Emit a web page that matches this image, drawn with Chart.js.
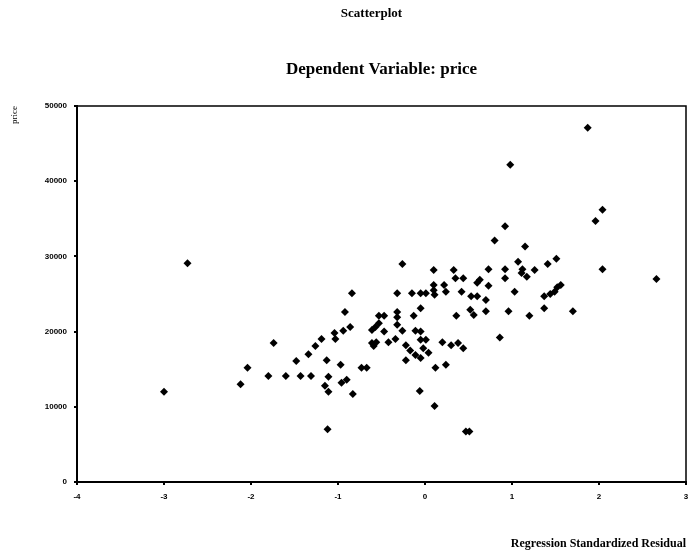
<!DOCTYPE html>
<html>
<head>
<meta charset="utf-8">
<title>Scatterplot</title>
<script src="https://cdn.jsdelivr.net/npm/chart.js@4/dist/chart.umd.min.js"></script>
<style>
  html, body { margin: 0; padding: 0; background: #fff; }
  #wrap { width: 690px; height: 551px; position: relative; }
</style>
</head>
<body>
<div id="wrap"><canvas id="chart"></canvas></div>
<script>
// Regression standardized residual (x) and observed price (y), one entry per case
const residuals = [
  -3.00, -2.73, -2.12, -2.04, -1.80, -1.60, -1.74, -1.48, -1.43, -1.31,
  -1.34, -1.26, -1.19, -1.13, -1.11, -1.15, -1.11, -1.12, -1.04, -1.03,
  -0.97, -0.96, -0.90, -0.83, -0.94, -0.86, -0.92, -0.84, -0.73, -0.67,
  -0.61, -0.53, -0.57, -0.47, -0.61, -0.56, -0.59, -0.53, -0.47, -0.42,
  -0.34, -0.32, -0.32, -0.32, -0.26, -0.32, -0.26, -0.22, -0.17, -0.11,
  -0.05, -0.22, -0.02, -0.15, -0.05, -0.13, -0.11, -0.05, -0.06, -0.05,
   0.01,  0.04,  0.01, -0.05,  0.10,  0.11,  0.10,  0.10,  0.12,  0.24,
   0.11,  0.20,  0.22,  0.24,  0.33,  0.35,  0.44,  0.42,  0.30,  0.38,
   0.44,  0.47,  0.51,  0.36,  0.52,  0.56,  0.53,  0.60,  0.63,  0.60,
   0.73,  0.73,  0.70,  0.70,  0.80,  0.86,  0.92,  0.98,  0.92,  0.92,
   0.96,  1.03,  1.07,  1.12,  1.11,  1.17,  1.15,  1.20,  1.26,  1.37,
   1.37,  1.44,  1.49,  1.52,  1.41,  1.51,  1.56,  1.70,  1.87,  1.96,
   2.04,  2.04,  2.66
];
const prices = [
  12000, 29100, 13000, 15200, 14100, 14100, 18500, 16100, 14100, 14100,
  17000, 18100, 19000, 16200, 14000, 12800, 12000,  7000, 19800, 19000,
  15600, 13200, 13600, 11700, 20100, 20600, 22600, 25100, 15200, 15200,
  20200, 21100, 20600, 20000, 18500, 18600, 18100, 22100, 22100, 18600,
  19000, 22600, 21900, 20900, 20100, 25100, 29000, 18200, 17500, 16900,
  16500, 16200, 17800, 25100, 23100, 22100, 20100, 20000, 12100, 25100,
  25100, 17200, 18900, 18900, 25500, 24900, 26200, 28200, 15200, 15600,
  10100, 18600, 26200, 25300, 28200, 27100, 27100, 25300, 18200, 18500,
  17800,  6700,  6700, 22100, 22900, 22200, 24700, 24700, 26900, 26500,
  28300, 26100, 24200, 22700, 32100, 19200, 34000, 42200, 28300, 27100,
  22700, 25300, 29300, 28300, 27800, 27300, 31300, 22100, 28200, 23100,
  24700, 25000, 25300, 25900, 29000, 29700, 26200, 22700, 47100, 34700,
  36200, 28300, 27000
];

// Axis ticks
const xTicks = [-4, -3, -2, -1, 0, 1, 2, 3];
const yTicks = [0, 10000, 20000, 30000, 40000, 50000];
const yTickLabels = ['0', '10000', '20000', '30000', '40000', '50000'];

// Headings
const mainTitle = 'Scatterplot';
const subTitle = 'Dependent Variable: price';
const xTitle = 'Regression Standardized Residual';
const yTitle = 'price';

const points = residuals.map((r, i) => ({ x: r, y: prices[i] }));

const serif = '"Liberation Serif", "DejaVu Serif", serif';
const sans = '"Liberation Sans", "DejaVu Sans", sans-serif';

// Headings above the plot and the closing top/right frame lines
const framePlugin = {
  id: 'frameAndHeadings',
  afterDraw(chart) {
    const { ctx, chartArea: a } = chart;
    ctx.save();
    ctx.strokeStyle = '#000';
    ctx.lineWidth = 1.5;
    ctx.beginPath();
    ctx.moveTo(a.left, a.top);
    ctx.lineTo(a.right, a.top);
    ctx.lineTo(a.right, a.bottom);
    ctx.stroke();

    const cx = (a.left + a.right) / 2;
    ctx.fillStyle = '#000';
    ctx.textAlign = 'center';
    ctx.textBaseline = 'middle';
    ctx.font = 'bold 13px ' + serif;
    ctx.fillText(mainTitle, cx - 10, 14);
    ctx.font = 'bold 17px ' + serif;
    ctx.fillText(subTitle, cx, 70);
    ctx.restore();
  }
};

new Chart(document.getElementById('chart'), {
  type: 'scatter',
  data: {
    datasets: [{
      data: points,
      pointStyle: 'rectRot',
      pointRadius: 4,
      pointHoverRadius: 4,
      backgroundColor: '#000',
      borderColor: '#000',
      borderWidth: 0
    }]
  },
  options: {
    responsive: true,
    maintainAspectRatio: false,
    animation: false,
    layout: { padding: { top: 106, right: 2, bottom: 0, left: 0 } },
    plugins: {
      legend: { display: false },
      tooltip: { enabled: false }
    },
    scales: {
      x: {
        type: 'linear',
        min: xTicks[0],
        max: xTicks[xTicks.length - 1],
        afterBuildTicks(scale) { scale.ticks = xTicks.map(v => ({ value: v })); },
        afterFit(scale) {
          scale.height = 69;
          scale.paddingLeft = 0;
          scale.paddingRight = 0;
        },
        ticks: {
          color: '#000',
          font: { family: sans, size: 8, weight: 'bold' },
          padding: 7,
          maxRotation: 0,
          callback: v => String(v)
        },
        grid: {
          drawOnChartArea: false,
          drawTicks: true,
          tickLength: 3,
          color: '#000',
          lineWidth: 2
        },
        border: { display: true, color: '#000', width: 2 },
        title: {
          display: true,
          text: xTitle,
          align: 'end',
          color: '#000',
          font: { family: serif, size: 12, weight: 'bold' },
          padding: { top: 0, bottom: 0 }
        }
      },
      y: {
        type: 'linear',
        min: yTicks[0],
        max: yTicks[yTicks.length - 1],
        afterBuildTicks(scale) { scale.ticks = yTicks.map(v => ({ value: v })); },
        afterFit(scale) { scale.width = 77; },
        ticks: {
          color: '#000',
          font: { family: sans, size: 8, weight: 'bold' },
          padding: 7,
          callback: v => yTickLabels[yTicks.indexOf(v)]
        },
        grid: {
          drawOnChartArea: false,
          drawTicks: true,
          tickLength: 3,
          color: '#000',
          lineWidth: 2
        },
        border: { display: true, color: '#000', width: 2 },
        title: {
          display: true,
          text: yTitle,
          align: 'end',
          color: '#000',
          font: { family: serif, size: 9 },
          padding: { top: 9, bottom: 0 }
        }
      }
    }
  },
  plugins: [framePlugin]
});
</script>
</body>
</html>
